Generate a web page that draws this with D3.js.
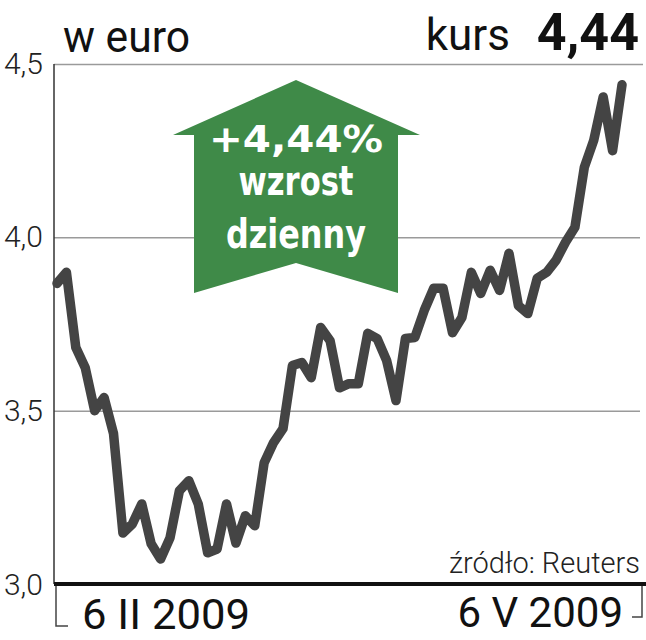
<!DOCTYPE html>
<html>
<head>
<meta charset="utf-8">
<script src="https://cdn.jsdelivr.net/npm/d3@7"></script>
<style>
  body { margin: 0; background: #fff; }
  svg { display: block; }
</style>
</head>
<body>
<div id="chart"></div>
<script>
// kurs w euro, 6 II 2009 - 6 V 2009
var rates = [
  3.867, 3.899, 3.682, 3.624, 3.500, 3.538, 3.434, 3.147, 3.173, 3.231,
  3.116, 3.072, 3.133, 3.269, 3.298, 3.231, 3.090, 3.101, 3.231, 3.118,
  3.197, 3.168, 3.350, 3.408, 3.448, 3.630, 3.639, 3.595, 3.740, 3.702,
  3.566, 3.578, 3.578, 3.723, 3.708, 3.645, 3.529, 3.708, 3.711, 3.789,
  3.853, 3.853, 3.725, 3.769, 3.899, 3.838, 3.905, 3.847, 3.954, 3.803,
  3.780, 3.882, 3.899, 3.934, 3.986, 4.029, 4.202, 4.280, 4.405, 4.250,
  4.440
];
var yTicks = [3.5, 4.0, 4.5];
var dateLabels = ["6 II 2009", "6 V 2009"];
var unitLabel = "w euro";
var lastLabel = "kurs";
var lastValue = "4,44";
var changeLines = ["+4,44%", "wzrost", "dzienny"];
var sourceLabel = "źródło: Reuters";

var width = 646, height = 640;
var fmt = function(d) { return d3.format(".1f")(d).replace(".", ","); };

var svg = d3.select("#chart").append("svg")
  .attr("width", width)
  .attr("height", height);

var x = d3.scaleLinear().domain([0, rates.length - 1]).range([57, 622]);
var y = d3.scaleLinear().domain([3.0, 4.5]).range([584, 64]);

// grid + labels
var yAxis = d3.axisLeft(y)
  .tickValues(yTicks)
  .tickSize(-586)
  .tickPadding(11)
  .tickFormat(fmt);

var yAxisG = svg.append("g")
  .attr("transform", "translate(54,0)")
  .call(yAxis);
yAxisG.select(".domain").remove();
yAxisG.selectAll(".tick line")
  .attr("stroke", "#9a9a9a")
  .attr("stroke-width", 1.5);
yAxisG.selectAll(".tick text")
  .attr("font-family", "Roboto")
  .attr("font-weight", 300)
  .attr("font-size", 30)
  .attr("fill", "#222")
  .attr("x", -11);
yAxisG.selectAll(".tick").filter(function(d) { return d === 4.5; })
  .select("line").attr("x2", 589);

svg.append("text")
  .attr("x", 43).attr("y", y(3.0))
  .attr("dy", "0.35em")
  .attr("text-anchor", "end")
  .attr("font-family", "Roboto").attr("font-weight", 300)
  .attr("font-size", 30).attr("fill", "#222")
  .text(fmt(3.0));

// left axis
svg.append("line")
  .attr("x1", 54).attr("x2", 54)
  .attr("y1", y(4.5)).attr("y2", y(3.0))
  .attr("stroke", "#333").attr("stroke-width", 1.5);

// arrow annotation
var ax = 296, ay = 80;
var arrowPts = [
  [ax, ay], [ax + 124, 135], [ax + 102, 135], [ax + 102, 293],
  [ax, 263], [ax - 102, 293], [ax - 102, 135], [ax - 123, 135]
];
svg.append("path")
  .attr("d", d3.line()(arrowPts) + "Z")
  .attr("fill", "#3f8a48");

var arrowText = svg.append("g")
  .attr("font-family", "DejaVu Sans Condensed, Roboto")
  .attr("font-weight", "bold")
  .attr("fill", "#fff")
  .attr("text-anchor", "middle");
var lineBase = [152, 195, 248];
var lineLen = [174, 115, 140];
var lineSize = [38, 40, 40];
changeLines.forEach(function(t, i) {
  arrowText.append("text")
    .attr("x", ax).attr("y", lineBase[i])
    .attr("font-size", lineSize[i])
    .attr("textLength", lineLen[i])
    .attr("lengthAdjust", "spacingAndGlyphs")
    .text(t);
});

// price line
svg.append("path")
  .datum(rates)
  .attr("fill", "none")
  .attr("stroke", "#444")
  .attr("stroke-width", 9.5)
  .attr("stroke-linejoin", "round")
  .attr("stroke-linecap", "round")
  .attr("d", d3.line()
    .x(function(d, i) { return x(i); })
    .y(function(d) { return y(d); }));

// bottom axis
svg.append("line")
  .attr("x1", 54).attr("x2", 646)
  .attr("y1", y(3.0)).attr("y2", y(3.0))
  .attr("stroke", "#111").attr("stroke-width", 4);

svg.append("path")
  .attr("d", "M56," + (y(3.0) + 2) + "V626H68")
  .attr("fill", "none").attr("stroke", "#444").attr("stroke-width", 1.5);
svg.append("path")
  .attr("d", "M632,617H642V" + (y(3.0) + 2))
  .attr("fill", "none").attr("stroke", "#444").attr("stroke-width", 1.5);

svg.append("text")
  .attr("x", 82).attr("y", 629)
  .attr("font-family", "Roboto").attr("font-weight", 400)
  .attr("font-size", 42).attr("fill", "#111")
  .attr("textLength", 168).attr("lengthAdjust", "spacingAndGlyphs")
  .text(dateLabels[0]);
svg.append("text")
  .attr("x", 623).attr("y", 627)
  .attr("text-anchor", "end")
  .attr("font-family", "Roboto").attr("font-weight", 400)
  .attr("font-size", 42).attr("fill", "#111")
  .text(dateLabels[1]);

svg.append("text")
  .attr("x", 640).attr("y", 573)
  .attr("text-anchor", "end")
  .attr("font-family", "Roboto").attr("font-weight", 300)
  .attr("font-size", 29).attr("fill", "#222")
  .text(sourceLabel);

// header
svg.append("text")
  .attr("x", 63).attr("y", 52)
  .attr("font-family", "Roboto").attr("font-size", 44).attr("fill", "#111")
  .attr("textLength", 127).attr("lengthAdjust", "spacingAndGlyphs")
  .text(unitLabel);
svg.append("text")
  .attr("x", 510).attr("y", 50)
  .attr("text-anchor", "end")
  .attr("font-family", "Roboto").attr("font-size", 44).attr("fill", "#111")
  .text(lastLabel);
svg.append("text")
  .attr("x", 639).attr("y", 50)
  .attr("text-anchor", "end")
  .attr("font-family", "Roboto").attr("font-weight", "bold")
  .attr("font-size", 52).attr("fill", "#111")
  .text(lastValue);
</script>
</body>
</html>
